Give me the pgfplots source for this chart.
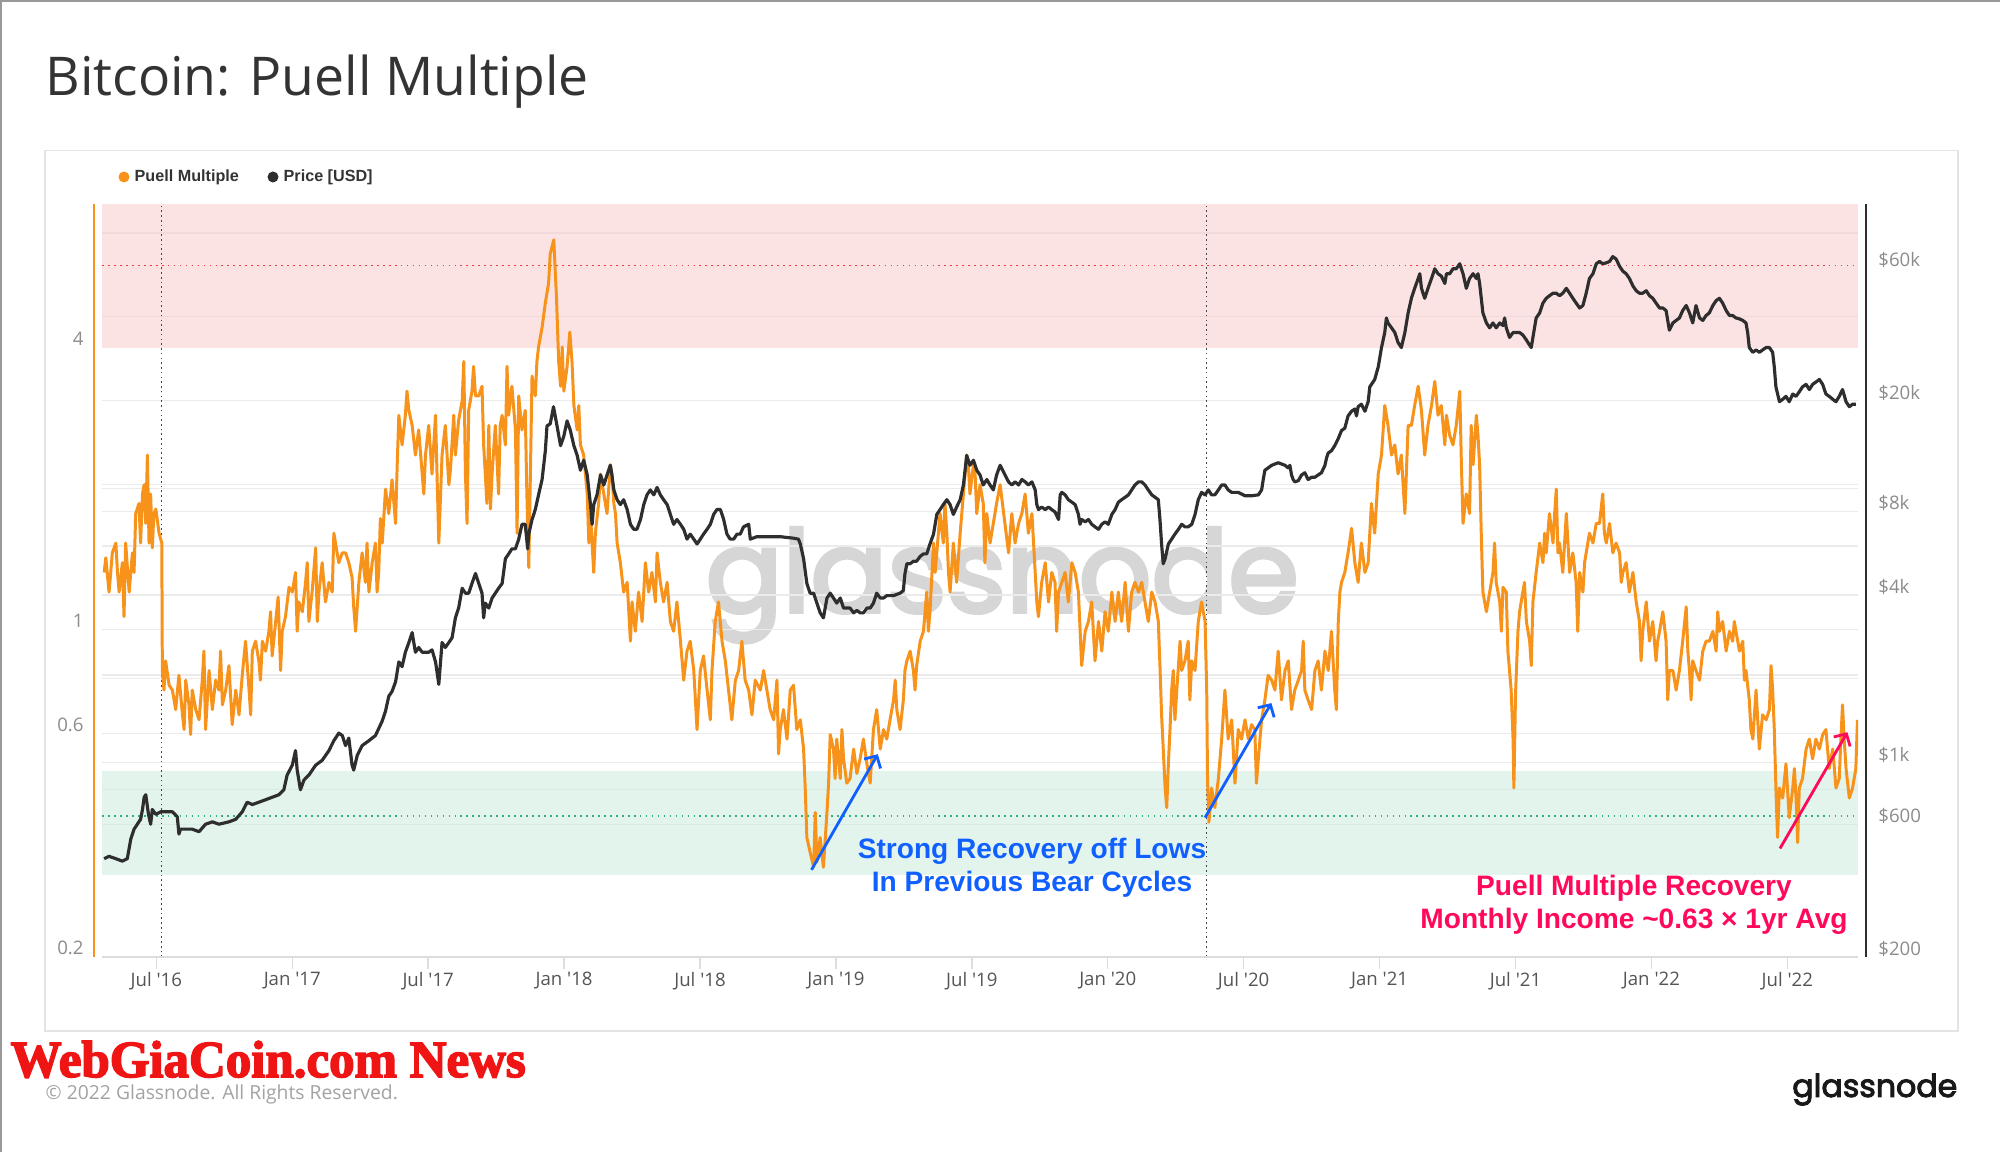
\documentclass[border=0pt]{standalone}
\usepackage{pgfplots}
\pgfplotsset{compat=1.18}
\usepackage{fontspec}
\setmainfont{Open Sans}
\newfontfamily\sbold{Liberation Sans}
\newfontfamily\logofont{Poppins}
\newfontfamily\wgcfont{Liberation Serif}
\newcommand{\strk}[2]{\special{pdf:literal direct 2 Tr #1 w}#2\special{pdf:literal direct 0 Tr}}
\usetikzlibrary{arrows.meta}
\definecolor{puell}{HTML}{F7931A}
\definecolor{pricec}{HTML}{2E2E2E}
\definecolor{gridc}{HTML}{EBEBEB}
\definecolor{axisc}{HTML}{DDDDDD}
\definecolor{bandred}{RGB}{250,200,200}
\definecolor{bandgreen}{RGB}{200,235,220}
\definecolor{reddot}{HTML}{E84040}
\definecolor{greendot}{HTML}{2DB37A}
\definecolor{vdot}{HTML}{444444}
\definecolor{xlab}{HTML}{555555}
\definecolor{ylab}{HTML}{8C8C8C}
\definecolor{titlec}{HTML}{333333}
\definecolor{annblue}{HTML}{1060FF}
\definecolor{annpink}{HTML}{FF0A5A}
\definecolor{wmgray}{HTML}{D6D6D6}
\definecolor{panelc}{HTML}{E4E4E4}
\definecolor{wgcred}{HTML}{F01515}
\pgfplotsset{
  base/.style={at={(1.02cm,1.95cm)}, anchor=south west, scale only axis,
    width=17.56cm, height=7.53cm, xmin=2016.30, xmax=2022.76,
    axis line style={draw=none}, ytick style={draw=none},
    ticklabel style={font=\fontsize{5.3}{6.4}\selectfont}},
}
\begin{document}
\begin{tikzpicture}
\path[use as bounding box] (0,0) rectangle (20,11.52);
\fill[white] (0,0) rectangle (20,11.52);
\draw[gray!80, line width=0.6pt] (0.01,0) -- (0.01,11.51) -- (20,11.51);
% title
\node[anchor=base west, inner sep=0, text=titlec] at (0.45,10.56) {\resizebox{5.43cm}{!}{Bitcoin: Puell Multiple}};
% panel
\draw[panelc, line width=0.45pt] (0.45,1.21) rectangle (19.58,10.015);
% legend
\fill[puell] (1.24,9.75) circle (0.055);
\node[anchor=west, inner sep=0, text=titlec, font=\fontsize{4.6}{5.4}\sbold\bfseries] at (1.34,9.75) {Puell Multiple};
\fill[pricec] (2.73,9.75) circle (0.055);
\node[anchor=west, inner sep=0, text=titlec, font=\fontsize{4.6}{5.4}\sbold\bfseries] at (2.83,9.75) {Price [USD]};
% watermark
\node[anchor=base west, inner sep=0, text=wmgray] at (7.05,5.40) {\resizebox{5.93cm}{!}{\logofont\strk{0.35}{glassnode}}};

% ---------- axis 1: price grid + x labels
\begin{axis}[base, ymode=log, ymin=200, ymax=101700,
  ytick={600,800,1000,2000,4000,6000,8000,10000,20000,40000,80000}, yticklabels={},
  ymajorgrids, major grid style={draw=gridc, line width=0.35pt},
  xtick={2016.5,2017,2017.5,2018,2018.5,2019,2019.5,2020,2020.5,2021,2021.5,2022,2022.5},
  xticklabels={Jul \textquotesingle16,Jan \textquotesingle17,Jul \textquotesingle17,Jan \textquotesingle18,Jul \textquotesingle18,Jan \textquotesingle19,Jul \textquotesingle19,Jan \textquotesingle20,Jul \textquotesingle20,Jan \textquotesingle21,Jul \textquotesingle21,Jan \textquotesingle22,Jul \textquotesingle22},
  xticklabel style={text=xlab, anchor=north, yshift=0.095cm},
  xtick pos=bottom, tick align=outside, major tick length=0.12cm,
  xtick style={draw=axisc, line width=0.4pt},
  clip=false]
\end{axis}

% ---------- axis 2: Puell
\begin{axis}[base, ymode=log, ymin=0.2, ymax=8.11, xtick=\empty,
  ytick={0.2,0.6,1,4}, yticklabels={0.2,0.6,1,4},
  yticklabel style={text=ylab, anchor=east, xshift=-0.06cm, yshift=0.09cm}]
\draw[gridc, line width=0.35pt] (axis cs:2016.30,0.6) -- (axis cs:2022.76,0.6);
\draw[gridc, line width=0.35pt] (axis cs:2016.30,0.8) -- (axis cs:2022.76,0.8);
\draw[gridc, line width=0.35pt] (axis cs:2016.30,1) -- (axis cs:2022.76,1);
\draw[gridc, line width=0.35pt] (axis cs:2016.30,2) -- (axis cs:2022.76,2);
\fill[bandred, fill opacity=0.5] (axis cs:2016.30,4) rectangle (axis cs:2022.76,8.11);
\fill[bandgreen, fill opacity=0.5] (axis cs:2016.30,0.3) rectangle (axis cs:2022.76,0.5);
\draw[reddot, line width=0.4pt, dash pattern=on 0.5pt off 1.2pt] (axis cs:2016.30,6) -- (axis cs:2022.76,6);
\draw[greendot, line width=0.4pt, dash pattern=on 0.5pt off 1.2pt] (axis cs:2016.30,0.4) -- (axis cs:2022.76,0.4);
\draw[vdot, line width=0.45pt, dash pattern=on 0.45pt off 0.9pt] (axis cs:2016.519,0.2) -- (axis cs:2016.519,8.11);
\draw[vdot, line width=0.45pt, dash pattern=on 0.45pt off 0.9pt] (axis cs:2020.363,0.2) -- (axis cs:2020.363,8.11);
\addplot[puell, line width=0.85pt, line join=round] table {
2016.308 1.325
2016.314 1.424
2016.326 1.203
2016.338 1.459
2016.351 1.531
2016.357 1.325
2016.363 1.203
2016.375 1.390
2016.381 1.066
2016.387 1.531
2016.400 1.203
2016.412 1.459
2016.418 1.325
2016.424 1.77
2016.436 1.86
2016.442 1.531
2016.449 1.949
2016.455 2.04
2016.461 1.686
2016.467 2.36
2016.473 1.531
2016.479 1.949
2016.485 1.495
2016.491 1.77
2016.498 1.81
2016.510 1.607
2016.520 1.531
2016.522 0.818
2016.528 0.743
2016.534 0.858
2016.547 0.761
2016.559 0.743
2016.571 0.675
2016.583 0.799
2016.596 0.658
2016.602 0.612
2016.608 0.780
2016.620 0.691
2016.626 0.597
2016.632 0.743
2016.645 0.675
2016.657 0.642
2016.669 0.780
2016.675 0.900
2016.681 0.612
2016.694 0.818
2016.706 0.675
2016.718 0.780
2016.730 0.743
2016.736 0.900
2016.743 0.691
2016.755 0.743
2016.767 0.838
2016.779 0.627
2016.792 0.743
2016.804 0.658
2016.816 0.799
2016.828 0.945
2016.841 0.743
2016.847 0.658
2016.853 0.900
2016.865 0.945
2016.877 0.858
2016.883 0.780
2016.890 0.945
2016.902 0.900
2016.914 0.992
2016.920 1.092
2016.926 0.879
2016.939 1.041
2016.948 1.174
2016.957 0.818
2016.963 0.992
2016.975 1.066
2016.988 1.232
2017.000 1.203
2017.012 1.325
2017.018 0.992
2017.024 1.146
2017.037 1.092
2017.049 1.262
2017.055 1.390
2017.061 1.041
2017.073 1.203
2017.086 1.495
2017.092 1.041
2017.098 1.203
2017.110 1.390
2017.122 1.146
2017.135 1.262
2017.147 1.203
2017.153 1.607
2017.159 1.531
2017.171 1.390
2017.184 1.459
2017.196 1.459
2017.208 1.390
2017.220 1.293
2017.226 1.119
2017.233 0.992
2017.245 1.262
2017.257 1.459
2017.269 1.262
2017.275 1.531
2017.282 1.203
2017.294 1.390
2017.306 1.531
2017.312 1.203
2017.318 1.325
2017.324 1.727
2017.331 1.531
2017.343 1.996
2017.355 1.77
2017.367 2.09
2017.380 1.686
2017.386 2.25
2017.392 2.87
2017.404 2.48
2017.416 2.87
2017.422 3.23
2017.429 2.94
2017.441 2.73
2017.453 2.36
2017.465 2.67
2017.478 2.15
2017.484 1.949
2017.490 2.36
2017.502 2.73
2017.514 2.15
2017.527 2.87
2017.539 1.531
2017.551 2.36
2017.563 2.73
2017.576 2.04
2017.582 2.198
2017.594 2.87
2017.600 2.36
2017.612 2.80
2017.625 3.08
2017.631 3.74
2017.637 2.15
2017.643 1.686
2017.649 2.94
2017.661 3.23
2017.667 3.65
2017.674 3.157
2017.686 3.157
2017.698 3.31
2017.704 2.48
2017.710 2.15
2017.716 1.86
2017.723 2.73
2017.729 1.81
2017.735 2.15
2017.747 2.73
2017.759 1.949
2017.765 2.73
2017.772 2.87
2017.784 2.48
2017.790 3.65
2017.796 2.87
2017.808 3.31
2017.821 2.67
2017.827 1.607
2017.833 3.157
2017.845 2.67
2017.857 2.94
2017.863 1.949
2017.870 1.357
2017.876 2.15
2017.882 3.48
2017.894 3.157
2017.900 3.74
2017.906 4.017
2017.919 4.42
2017.931 4.99
2017.943 5.50
2017.949 6.35
2017.962 6.80
2017.972 5.112
2017.980 3.74
2017.987 3.31
2017.993 4.017
2017.999 3.23
2018.011 3.65
2018.021 4.32
2018.029 3.74
2018.036 3.01
2018.048 2.67
2018.054 3.01
2018.060 2.48
2018.072 2.36
2018.085 1.949
2018.091 1.531
2018.097 1.77
2018.109 1.325
2018.115 1.607
2018.127 1.86
2018.134 2.15
2018.146 1.949
2018.158 1.77
2018.170 2.25
2018.176 2.15
2018.183 1.86
2018.189 1.77
2018.195 1.531
2018.207 1.390
2018.219 1.203
2018.232 1.262
2018.244 0.945
2018.250 1.146
2018.262 0.992
2018.274 1.203
2018.287 1.041
2018.299 1.390
2018.311 1.203
2018.323 1.325
2018.336 1.146
2018.342 1.459
2018.354 1.262
2018.366 1.146
2018.379 1.262
2018.391 1.041
2018.403 0.992
2018.415 1.146
2018.428 0.945
2018.440 0.780
2018.452 0.900
2018.464 0.945
2018.477 0.818
2018.489 0.612
2018.501 0.818
2018.513 0.879
2018.526 0.743
2018.538 0.642
2018.544 0.818
2018.556 1.041
2018.568 1.146
2018.581 0.945
2018.593 0.858
2018.605 0.743
2018.617 0.642
2018.630 0.780
2018.642 0.818
2018.654 0.945
2018.666 0.780
2018.679 0.743
2018.691 0.658
2018.703 0.780
2018.722 0.743
2018.734 0.818
2018.746 0.743
2018.758 0.675
2018.771 0.642
2018.783 0.780
2018.789 0.543
2018.795 0.612
2018.807 0.675
2018.820 0.584
2018.832 0.743
2018.844 0.761
2018.856 0.612
2018.869 0.642
2018.881 0.556
2018.887 0.459
2018.893 0.360
2018.905 0.335
2018.918 0.311
2018.924 0.407
2018.930 0.319
2018.942 0.360
2018.954 0.311
2018.967 0.407
2018.973 0.470
2018.979 0.597
2018.991 0.556
2018.997 0.481
2019.003 0.584
2019.016 0.481
2019.022 0.612
2019.028 0.530
2019.040 0.470
2019.052 0.481
2019.065 0.556
2019.077 0.493
2019.089 0.530
2019.101 0.584
2019.114 0.517
2019.126 0.470
2019.138 0.612
2019.150 0.675
2019.163 0.556
2019.175 0.612
2019.187 0.584
2019.199 0.642
2019.212 0.708
2019.218 0.780
2019.224 0.675
2019.236 0.612
2019.248 0.708
2019.254 0.818
2019.261 0.858
2019.273 0.900
2019.285 0.818
2019.291 0.743
2019.297 0.838
2019.310 0.945
2019.322 0.992
2019.334 1.203
2019.340 0.992
2019.346 1.092
2019.359 1.531
2019.365 1.325
2019.371 1.459
2019.383 1.77
2019.395 1.531
2019.401 1.86
2019.408 1.607
2019.414 1.325
2019.420 1.203
2019.432 1.531
2019.444 1.262
2019.457 1.607
2019.469 1.949
2019.481 2.36
2019.487 2.25
2019.493 1.949
2019.506 2.25
2019.512 2.15
2019.518 1.77
2019.530 2.04
2019.542 1.86
2019.548 1.390
2019.555 1.77
2019.567 1.531
2019.579 1.686
2019.591 1.86
2019.604 2.04
2019.635 1.459
2019.647 1.77
2019.659 1.531
2019.672 1.686
2019.684 1.77
2019.696 1.949
2019.708 1.607
2019.721 1.77
2019.733 1.325
2019.739 1.146
2019.745 1.066
2019.757 1.262
2019.770 1.390
2019.782 1.146
2019.794 1.325
2019.806 1.262
2019.812 0.992
2019.819 1.203
2019.831 1.262
2019.843 1.325
2019.855 1.146
2019.868 1.390
2019.880 1.325
2019.892 1.203
2019.904 0.838
2019.917 0.992
2019.929 1.041
2019.941 1.146
2019.953 0.858
2019.966 1.041
2019.978 0.900
2019.990 1.092
2020.002 0.992
2020.015 1.203
2020.027 1.041
2020.039 1.203
2020.051 1.041
2020.064 1.262
2020.076 0.992
2020.088 1.203
2020.100 1.262
2020.113 1.203
2020.125 1.262
2020.137 1.146
2020.149 1.041
2020.162 1.203
2020.174 1.146
2020.186 1.041
2020.192 0.838
2020.198 0.658
2020.211 0.459
2020.217 0.417
2020.223 0.517
2020.229 0.612
2020.235 0.743
2020.241 0.818
2020.247 0.642
2020.260 0.838
2020.266 0.945
2020.272 0.818
2020.284 0.858
2020.296 0.945
2020.302 0.708
2020.309 0.858
2020.321 0.818
2020.333 1.041
2020.345 1.146
2020.358 1.041
2020.364 0.743
2020.367 0.481
2020.372 0.388
2020.382 0.459
2020.394 0.417
2020.407 0.481
2020.419 0.584
2020.431 0.743
2020.437 0.658
2020.443 0.584
2020.456 0.642
2020.468 0.470
2020.480 0.612
2020.492 0.584
2020.505 0.642
2020.517 0.584
2020.529 0.627
2020.541 0.612
2020.547 0.470
2020.554 0.530
2020.566 0.642
2020.578 0.708
2020.590 0.799
2020.603 0.780
2020.615 0.743
2020.627 0.900
2020.639 0.708
2020.652 0.818
2020.664 0.858
2020.676 0.675
2020.688 0.743
2020.701 0.780
2020.713 0.818
2020.719 0.945
2020.725 0.743
2020.737 0.708
2020.750 0.675
2020.762 0.818
2020.774 0.858
2020.786 0.743
2020.799 0.900
2020.811 0.818
2020.823 0.992
2020.835 0.743
2020.841 0.675
2020.848 1.041
2020.854 1.203
2020.860 1.262
2020.872 1.325
2020.884 1.459
2020.897 1.646
2020.909 1.390
2020.921 1.262
2020.933 1.531
2020.946 1.325
2020.958 1.390
2020.970 1.86
2020.982 1.607
2020.995 2.15
2021.007 2.36
2021.019 3.01
2021.031 2.73
2021.044 2.36
2021.056 2.48
2021.068 2.15
2021.080 2.36
2021.093 1.77
2021.105 2.73
2021.117 2.73
2021.129 3.01
2021.142 3.31
2021.154 2.94
2021.166 2.36
2021.178 2.73
2021.191 3.01
2021.203 3.39
2021.215 2.87
2021.227 3.01
2021.240 2.48
2021.246 2.87
2021.258 2.60
2021.270 2.48
2021.282 2.73
2021.295 3.23
2021.301 2.25
2021.307 1.686
2021.319 1.949
2021.331 1.77
2021.337 2.73
2021.344 2.25
2021.356 2.87
2021.362 2.60
2021.368 2.25
2021.374 1.607
2021.380 1.203
2021.393 1.092
2021.405 1.203
2021.417 1.325
2021.423 1.531
2021.429 1.262
2021.442 1.146
2021.448 0.992
2021.454 1.232
2021.466 1.203
2021.472 0.900
2021.478 0.818
2021.484 0.743
2021.491 0.584
2021.494 0.459
2021.500 0.725
2021.509 0.992
2021.515 1.092
2021.527 1.203
2021.533 1.262
2021.540 1.041
2021.552 0.945
2021.558 0.838
2021.564 1.146
2021.576 1.325
2021.589 1.531
2021.601 1.390
2021.607 1.607
2021.613 1.459
2021.625 1.77
2021.638 1.531
2021.644 1.77
2021.650 1.996
2021.656 1.459
2021.662 1.531
2021.674 1.325
2021.687 1.77
2021.693 1.531
2021.699 1.325
2021.711 1.459
2021.723 1.262
2021.729 0.992
2021.736 1.325
2021.748 1.203
2021.754 1.390
2021.760 1.459
2021.772 1.607
2021.785 1.531
2021.797 1.686
2021.809 1.686
2021.821 1.949
2021.827 1.607
2021.834 1.531
2021.846 1.686
2021.858 1.459
2021.870 1.531
2021.883 1.459
2021.889 1.262
2021.895 1.325
2021.907 1.390
2021.919 1.203
2021.932 1.325
2021.944 1.146
2021.956 1.041
2021.962 0.858
2021.968 0.992
2021.981 1.146
2021.993 0.945
2022.005 1.041
2022.017 0.858
2022.023 0.945
2022.030 0.992
2022.042 1.092
2022.054 0.945
2022.060 0.708
2022.066 0.818
2022.079 0.818
2022.091 0.743
2022.103 0.818
2022.115 0.945
2022.128 1.119
2022.134 0.900
2022.140 0.818
2022.146 0.708
2022.152 0.858
2022.164 0.818
2022.177 0.780
2022.189 0.900
2022.201 0.945
2022.213 0.945
2022.226 0.992
2022.238 0.900
2022.244 1.092
2022.250 0.992
2022.262 1.041
2022.275 0.900
2022.287 0.992
2022.299 0.945
2022.305 1.041
2022.311 0.992
2022.324 0.900
2022.336 0.945
2022.342 0.780
2022.348 0.818
2022.360 0.708
2022.366 0.612
2022.373 0.584
2022.385 0.743
2022.397 0.556
2022.409 0.658
2022.422 0.642
2022.434 0.675
2022.440 0.838
2022.446 0.743
2022.452 0.612
2022.458 0.459
2022.464 0.360
2022.471 0.459
2022.483 0.437
2022.495 0.517
2022.507 0.397
2022.520 0.459
2022.526 0.505
2022.532 0.437
2022.538 0.351
2022.544 0.459
2022.556 0.481
2022.569 0.556
2022.581 0.584
2022.593 0.530
2022.605 0.584
2022.618 0.556
2022.630 0.597
2022.642 0.612
2022.654 0.505
2022.667 0.556
2022.679 0.459
2022.691 0.481
2022.697 0.584
2022.703 0.691
2022.709 0.584
2022.716 0.505
2022.728 0.437
2022.740 0.459
2022.752 0.505
2022.758 0.642
};
\draw[annblue, line width=0.8pt, -{Straight Barb[length=0.9mm, width=1.9mm]}] (axis cs:2018.910,0.307) -- (axis cs:2019.154,0.542);
\draw[annblue, line width=0.8pt, -{Straight Barb[length=0.9mm, width=1.9mm]}] (axis cs:2020.358,0.397) -- (axis cs:2020.602,0.697);
\draw[annpink, line width=0.8pt, -{Straight Barb[length=0.9mm, width=1.9mm]}] (axis cs:2022.473,0.341) -- (axis cs:2022.721,0.604);
\end{axis}

% ---------- axis 3: price line
\begin{axis}[base, ymode=log, ymin=200, ymax=101700, xtick=\empty,
  ytick={200,600,1000,4000,8000,20000,60000},
  yticklabels={\$200,\$600,\$1k,\$4k,\$8k,\$20k,\$60k},
  yticklabel pos=right,
  yticklabel style={text=ylab, anchor=west, xshift=0.08cm, yshift=0.08cm}]
\addplot[pricec, line width=0.9pt, line join=round] table {
2016.308 451
2016.326 460
2016.351 451
2016.375 442
2016.393 451
2016.406 531
2016.418 576
2016.430 600
2016.442 625
2016.449 678
2016.455 750
2016.461 766
2016.471 651
2016.479 600
2016.485 678
2016.498 651
2016.516 665
2016.534 665
2016.559 665
2016.577 638
2016.583 553
2016.589 576
2016.608 576
2016.632 576
2016.657 564
2016.681 600
2016.706 612
2016.730 600
2016.767 612
2016.792 625
2016.816 665
2016.834 720
2016.853 706
2016.877 720
2016.902 735
2016.926 750
2016.951 766
2016.969 798
2016.981 901
2017.000 978
2017.012 1104
2017.018 939
2017.030 798
2017.043 865
2017.061 901
2017.086 978
2017.110 1018
2017.135 1104
2017.153 1198
2017.171 1275
2017.184 1250
2017.196 1150
2017.208 1224
2017.220 978
2017.226 939
2017.239 1060
2017.257 1150
2017.282 1198
2017.306 1250
2017.331 1410
2017.343 1530
2017.355 1730
2017.367 1800
2017.380 1950
2017.392 2300
2017.404 2210
2017.416 2490
2017.429 2700
2017.441 2930
2017.453 2490
2017.465 2590
2017.478 2490
2017.490 2490
2017.502 2490
2017.514 2540
2017.527 2300
2017.539 1910
2017.551 2700
2017.563 2590
2017.576 2700
2017.588 2810
2017.600 3310
2017.612 3590
2017.625 4230
2017.637 4060
2017.649 4060
2017.661 4400
2017.674 4780
2017.686 4400
2017.698 4060
2017.704 3310
2017.710 3740
2017.723 3590
2017.735 3900
2017.747 4060
2017.759 4230
2017.772 4400
2017.784 5400
2017.796 5620
2017.808 5860
2017.821 5860
2017.833 6350
2017.845 7180
2017.857 7180
2017.866 5860
2017.870 6620
2017.882 7470
2017.894 8110
2017.906 9160
2017.919 10400
2017.931 13200
2017.937 16200
2017.949 16500
2017.961 19000
2017.974 16200
2017.987 13760
2017.999 14900
2018.011 16900
2018.023 15600
2018.036 13760
2018.048 12700
2018.060 11230
2018.072 12200
2018.085 10800
2018.097 8450
2018.103 7180
2018.109 8450
2018.121 9160
2018.134 10800
2018.146 9940
2018.158 10800
2018.170 11700
2018.176 10800
2018.183 9540
2018.195 8800
2018.207 8450
2018.219 8800
2018.232 8110
2018.244 7180
2018.256 6890
2018.268 6890
2018.281 7470
2018.293 8450
2018.305 9160
2018.317 9540
2018.330 9160
2018.342 9740
2018.354 9160
2018.366 8800
2018.379 8450
2018.391 7790
2018.403 7180
2018.415 7470
2018.428 7180
2018.440 6890
2018.452 6350
2018.464 6620
2018.477 6350
2018.489 6100
2018.501 6350
2018.513 6620
2018.526 6890
2018.538 7180
2018.550 7790
2018.562 8110
2018.575 8110
2018.587 7470
2018.599 6620
2018.611 6350
2018.624 6350
2018.636 6620
2018.648 6620
2018.660 7030
2018.679 7180
2018.685 6350
2018.709 6480
2018.746 6480
2018.795 6480
2018.844 6400
2018.862 6350
2018.869 6100
2018.881 5400
2018.893 4400
2018.905 4060
2018.918 4060
2018.930 3740
2018.942 3450
2018.954 3310
2018.967 3900
2018.979 4060
2018.991 3900
2019.003 3740
2019.016 3900
2019.028 3590
2019.040 3590
2019.052 3590
2019.065 3450
2019.077 3520
2019.089 3450
2019.101 3450
2019.114 3590
2019.126 3590
2019.138 3740
2019.150 4060
2019.163 3900
2019.175 3900
2019.187 3980
2019.212 3980
2019.236 4060
2019.248 4150
2019.254 4780
2019.261 5180
2019.273 5180
2019.285 5290
2019.297 5290
2019.310 5510
2019.322 5620
2019.334 5620
2019.346 6100
2019.359 6620
2019.371 7790
2019.383 8110
2019.395 8450
2019.408 8800
2019.420 8450
2019.432 7790
2019.444 8280
2019.457 8800
2019.469 9940
2019.481 12700
2019.493 11700
2019.506 12200
2019.518 11230
2019.530 10800
2019.542 9940
2019.555 10400
2019.567 9940
2019.579 9540
2019.591 10800
2019.604 11700
2019.635 10200
2019.647 9940
2019.659 10200
2019.672 9940
2019.684 10400
2019.696 10200
2019.708 9940
2019.721 10200
2019.733 9540
2019.739 8450
2019.745 8110
2019.757 8280
2019.770 8110
2019.782 8280
2019.794 8110
2019.806 7950
2019.819 7470
2019.825 9160
2019.831 9350
2019.843 9160
2019.855 8800
2019.868 8620
2019.880 8450
2019.892 7790
2019.898 7180
2019.904 7470
2019.917 7330
2019.929 7470
2019.941 7180
2019.953 7030
2019.966 6890
2019.978 7180
2019.990 7330
2020.002 7180
2020.015 7790
2020.027 8110
2020.039 8620
2020.051 8800
2020.064 8980
2020.076 9160
2020.088 9540
2020.100 9940
2020.113 10200
2020.125 10200
2020.137 9940
2020.149 9540
2020.162 9160
2020.174 8980
2020.186 8800
2020.192 7470
2020.198 6100
2020.204 5180
2020.211 5400
2020.223 6100
2020.235 6350
2020.247 6620
2020.260 6890
2020.272 7180
2020.284 7030
2020.296 7030
2020.309 7180
2020.321 7790
2020.333 8800
2020.345 9350
2020.358 9160
2020.370 9540
2020.382 9160
2020.394 9160
2020.407 9540
2020.419 9940
2020.431 9940
2020.443 9540
2020.456 9350
2020.480 9350
2020.505 9090
2020.529 9090
2020.554 9160
2020.566 9540
2020.572 10400
2020.578 11230
2020.590 11450
2020.603 11700
2020.627 11950
2020.652 11700
2020.664 11450
2020.670 11700
2020.676 10800
2020.682 10400
2020.688 10200
2020.701 10300
2020.713 10800
2020.725 11000
2020.737 10400
2020.750 10600
2020.762 10600
2020.774 10800
2020.786 11000
2020.799 11700
2020.805 12450
2020.811 12950
2020.823 13200
2020.835 13760
2020.848 14600
2020.860 15600
2020.872 15900
2020.884 17600
2020.897 18300
2020.909 18650
2020.915 17600
2020.921 19000
2020.933 19400
2020.946 18300
2020.958 19800
2020.964 22400
2020.970 22850
2020.982 23800
2020.995 26400
2021.007 31000
2021.019 35100
2021.025 39600
2021.031 38000
2021.044 36500
2021.056 35100
2021.068 32300
2021.080 31000
2021.093 35100
2021.105 41300
2021.117 46600
2021.129 50600
2021.142 54900
2021.148 57100
2021.154 50600
2021.166 46600
2021.178 50600
2021.191 54900
2021.203 59500
2021.215 57100
2021.227 56000
2021.240 52700
2021.246 57100
2021.258 57100
2021.270 59500
2021.282 59500
2021.295 62000
2021.307 57100
2021.319 50600
2021.331 54900
2021.344 57100
2021.356 54900
2021.362 57100
2021.368 52700
2021.380 41300
2021.393 38000
2021.405 36500
2021.417 38000
2021.429 36500
2021.442 38000
2021.454 37200
2021.460 39600
2021.466 36500
2021.478 33700
2021.491 35100
2021.503 35100
2021.515 35100
2021.527 34400
2021.540 33000
2021.552 31600
2021.558 31000
2021.564 33700
2021.576 39600
2021.589 41300
2021.601 44800
2021.613 46600
2021.625 47600
2021.638 48600
2021.650 48600
2021.662 47600
2021.674 48600
2021.687 50600
2021.699 48600
2021.711 46600
2021.723 44800
2021.736 43000
2021.748 43900
2021.760 48600
2021.772 54900
2021.785 57100
2021.797 62000
2021.809 63200
2021.821 62000
2021.834 62500
2021.846 63200
2021.858 65800
2021.870 64500
2021.883 60700
2021.895 58300
2021.907 57100
2021.919 54900
2021.932 51600
2021.944 49600
2021.956 48600
2021.968 48600
2021.981 49600
2021.993 47600
2022.005 46600
2022.017 44800
2022.030 43000
2022.042 43000
2022.054 42100
2022.066 35800
2022.079 38000
2022.091 38800
2022.103 39600
2022.115 42100
2022.128 43900
2022.140 41300
2022.152 38000
2022.164 43900
2022.177 39600
2022.189 38800
2022.201 40400
2022.213 41300
2022.226 43900
2022.238 45700
2022.250 46600
2022.262 44800
2022.275 42100
2022.287 40400
2022.299 40400
2022.311 39600
2022.324 39300
2022.336 38800
2022.348 38000
2022.354 35100
2022.360 31000
2022.373 29800
2022.385 30400
2022.397 29800
2022.409 30400
2022.422 31000
2022.434 31000
2022.446 29800
2022.452 26400
2022.458 22400
2022.471 19800
2022.483 20200
2022.495 20700
2022.507 19800
2022.520 21100
2022.532 20700
2022.544 21500
2022.556 22400
2022.569 22850
2022.581 21900
2022.593 22850
2022.605 23300
2022.618 23800
2022.630 22850
2022.642 21100
2022.654 20700
2022.667 20200
2022.679 19800
2022.691 20700
2022.703 21900
2022.716 19800
2022.728 19000
2022.740 19400
2022.752 19400
};
\end{axis}

% axis lines
\draw[axisc, line width=0.5pt] (1.02,1.95) -- (18.58,1.95);
\draw[puell, line width=0.8pt] (0.94,1.95) -- (0.94,9.48);
\draw[pricec, line width=0.8pt] (18.66,1.95) -- (18.66,9.48);

% annotations
\node[text=annblue, font=\fontsize{8.0}{9.6}\sbold\bfseries] at (10.32,3.01) {Strong Recovery off Lows};
\node[text=annblue, font=\fontsize{8.0}{9.6}\sbold\bfseries] at (10.32,2.68) {In Previous Bear Cycles};
\node[text=annpink, font=\fontsize{8.0}{9.6}\sbold\bfseries] at (16.34,2.64) {Puell Multiple Recovery};
\node[text=annpink, font=\fontsize{8.0}{9.6}\sbold\bfseries] at (16.34,2.31) {Monthly Income \textasciitilde0.63 × 1yr Avg};

% footer
\node[anchor=base west, inner sep=0, text=ylab!80, font=\fontsize{5.5}{6.5}\selectfont] at (0.45,0.525) {© 2022 Glassnode. All Rights Reserved.};
\node[anchor=base west, inner sep=0, text=wgcred] at (0.10,0.75) {\resizebox{5.15cm}{0.36cm}{\wgcfont\bfseries\strk{0.3}{WebGiaCoin.com News}}};
\node[anchor=base east, inner sep=0, text=black!90] at (19.58,0.55) {\resizebox{1.65cm}{!}{\logofont\strk{0.3}{glassnode}}};
\end{tikzpicture}
\end{document}
